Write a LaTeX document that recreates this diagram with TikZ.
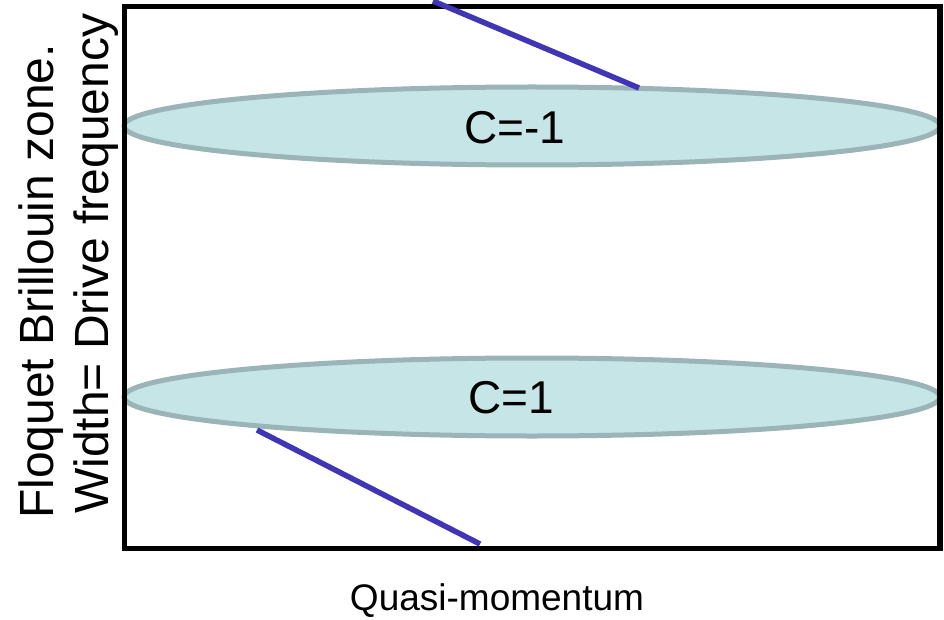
\documentclass[tikz,border=0pt]{standalone}
\usepackage{fontspec}
\setmainfont{Liberation Sans}
\usetikzlibrary{shapes.geometric}
\definecolor{bandfill}{HTML}{C5E5E7}
\definecolor{banddraw}{HTML}{9BB4B7}
\definecolor{edgeblue}{HTML}{3F35B5}
\tikzset{
  band/.style={ellipse, fill=bandfill, draw=banddraw, line width=5pt, minimum width=816pt, minimum height=78pt, inner sep=0pt},
  bandlabel/.style={font=\fontsize{46}{50}\selectfont, inner sep=0pt},
  edgestate/.style={draw=edgeblue, line width=5.5pt},
  axislabel/.style={font=\fontsize{48}{54}\selectfont, inner sep=0pt, rotate=90},
}
\begin{document}
\begin{tikzpicture}[x=1pt,y=-1pt]
\useasboundingbox (0,0) rectangle (944,620);
\node[band] (top) at (532,126) {};
\node[band] (bot) at (532,397) {};
\draw[line width=5.5pt, line join=miter] (124.5,6.5) rectangle (940,548.5);
\node[bandlabel] (ctop) at (515,128) {C=-1};
\node[bandlabel] (cbot) at (511,398) {C=1};
\coordinate (t1) at (433,1);
\coordinate (t2) at (639,88);
\coordinate (b1) at (257,430);
\coordinate (b2) at (480,544);
\draw[edgestate] (t1) -- (t2);
\draw[edgestate] (b1) -- (b2);
\node[font=\fontsize{37}{42}\selectfont, inner sep=0pt] (xl) at (497,601) {Quasi-momentum};
\node[axislabel, anchor=base west] (yl1) at (53,519) {Floquet Brillouin zone.};
\node[axislabel, anchor=base west] (yl2) at (108,514) {Width= Drive frequency};
\end{tikzpicture}
\end{document}
